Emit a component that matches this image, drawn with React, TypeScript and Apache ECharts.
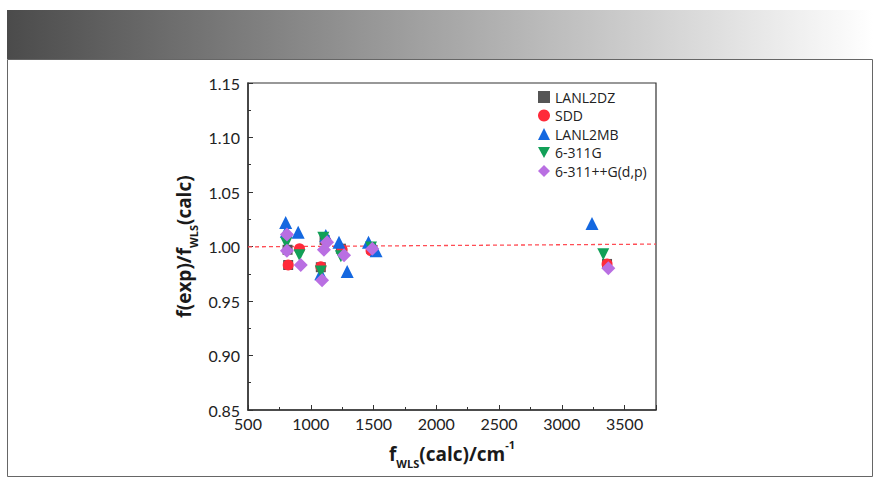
import React, { useEffect, useRef } from "react";
import * as echarts from "echarts";

const xTicks = [500, 1000, 1500, 2000, 2500, 3000, 3500];
const seriesNames = ["LANL2DZ", "SDD", "LANL2MB", "6-311G", "6-311++G(d,p)"];

const lanl2dz: number[][] = [
  [820, 0.983], [815, 0.997], [1080, 0.981], [1110, 1.006],
  [1240, 0.998], [1480, 0.998], [3360, 0.984],
];
const sdd: number[][] = [
  [820, 0.983], [910, 0.998], [1080, 0.9815], [1120, 1.005],
  [1250, 0.997], [1480, 0.996], [3360, 0.984],
];
const lanl2mb: number[][] = [
  [800, 1.022], [805, 1.014], [900, 1.013], [1080, 0.975],
  [1120, 1.010], [1225, 1.004], [1290, 0.977], [1460, 1.004],
  [1520, 0.996], [3240, 1.021],
];
const g6311: number[][] = [
  [805, 1.003], [910, 0.992], [1080, 0.977], [1100, 1.008],
  [1240, 0.991], [1480, 0.999], [3330, 0.993],
];
const g6311pp: number[][] = [
  [810, 1.011], [810, 0.996], [920, 0.983], [1090, 0.969],
  [1130, 1.004], [1105, 0.997], [1265, 0.992], [1490, 0.998],
  [3370, 0.980],
];
const refLine: number[][] = [
  [500, 0.9997], [3750, 1.0022],
];

const colors = ["#555555", "#ff2a3a", "#1468e0", "#12a058", "#b96fe2"];
const symbols = [
  "rect",
  "circle",
  "triangle",
  "path://M0,0 L10,0 L5,9 Z",
  "diamond",
];
const sizes = [10, 11, 13, 12, 14];

export default function App() {
  const ref = useRef<HTMLDivElement>(null);
  useEffect(() => {
    if (!ref.current) return;
    const chart = echarts.init(ref.current, undefined, { renderer: "svg" });
    const font = "Lato, 'Open Sans', sans-serif";
    const tfont = "'Open Sans', Lato, sans-serif";
    const titleRich = {
      b: { fontSize: 19, fontWeight: "bold", color: "#1a1a1a", fontFamily: tfont, lineHeight: 30 },
      s: { fontSize: 11, fontWeight: "bold", color: "#1a1a1a", fontFamily: tfont, verticalAlign: "bottom", lineHeight: 14 },
      p: { fontSize: 11, fontWeight: "bold", color: "#1a1a1a", fontFamily: tfont, verticalAlign: "top", lineHeight: 21 },
    };
    const datasets = [lanl2dz, sdd, lanl2mb, g6311, g6311pp];
    chart.setOption({
      animation: false,
      textStyle: { fontFamily: font },
      graphic: [
        {
          type: "rect",
          shape: { x: 7, y: 10, width: 866, height: 49 },
          style: {
            fill: new echarts.graphic.LinearGradient(0, 0, 1, 0, [
              { offset: 0, color: "#4b4b4b" },
              { offset: 1, color: "#ffffff" },
            ]),
          },
          silent: true,
          z: -10,
        },
        {
          type: "rect",
          shape: { x: 7.5, y: 59.5, width: 865, height: 417 },
          style: { fill: "none", stroke: "#666", lineWidth: 1 },
          silent: true,
          z: -10,
        },
      ],
      grid: {
        left: 248,
        right: 224,
        top: 83,
        bottom: 78,
        show: true,
        borderColor: "#333",
        borderWidth: 1.2,
        backgroundColor: "transparent",
      },
      legend: {
        orient: "vertical",
        left: 533,
        top: 85,
        itemWidth: 12,
        itemHeight: 12,
        itemGap: 4.5,
        textStyle: { fontSize: 14, color: "#222", fontFamily: tfont, lineHeight: 13 },
        data: seriesNames.map((n, i) => ({ name: n, icon: symbols[i] })),
      },
      xAxis: {
        type: "value",
        min: 500,
        max: 3750,
        interval: 500,
        name: "{b|f}{s|WLS}{b|(calc)/cm}{p|-1}",
        nameLocation: "middle",
        nameGap: 29,
        nameTextStyle: { rich: titleRich },
        axisLine: { onZero: false, lineStyle: { color: "#333", width: 1.5 } },
        axisTick: { inside: true, length: 5, lineStyle: { color: "#333" } },
        minorTick: { show: true, splitNumber: 2, length: 3, lineStyle: { color: "#333" } },
        axisLabel: {
          fontSize: 16,
          color: "#222",
          margin: 5,
          fontFamily: font,
          formatter: (v: number) => (xTicks.includes(v) ? String(v) : ""),
        },
        splitLine: { show: false },
      },
      yAxis: {
        type: "value",
        min: 0.85,
        max: 1.15,
        interval: 0.05,
        name: "{b|f(exp)/f}{s|WLS}{b|(calc)}",
        nameLocation: "middle",
        nameGap: 49,
        nameTextStyle: { rich: titleRich },
        axisLine: { onZero: false, lineStyle: { color: "#333", width: 1.5 } },
        axisTick: { inside: true, length: 5, lineStyle: { color: "#333" } },
        minorTick: { show: true, splitNumber: 2, length: 3, lineStyle: { color: "#333" } },
        axisLabel: {
          fontSize: 16,
          color: "#222",
          margin: 8,
          fontFamily: font,
          formatter: (v: number) => v.toFixed(2),
        },
        splitLine: { show: false },
      },
      series: [
        {
          type: "line",
          data: refLine,
          symbol: "none",
          silent: true,
          lineStyle: { color: "#ff4d55", width: 1.3, type: [4, 3] },
          z: 1,
        },
        ...seriesNames.map((n, i) => ({
          name: n,
          type: "scatter",
          data: datasets[i],
          symbol: symbols[i],
          symbolSize: sizes[i],
          itemStyle: { color: colors[i], opacity: 1 },
          z: 2 + i,
        })),
      ],
    });
    return () => chart.dispose();
  }, []);
  return (
    <div
      ref={ref}
      style={{ position: "absolute", left: 0, top: 0, width: 880, height: 488 }}
    />
  );
}
